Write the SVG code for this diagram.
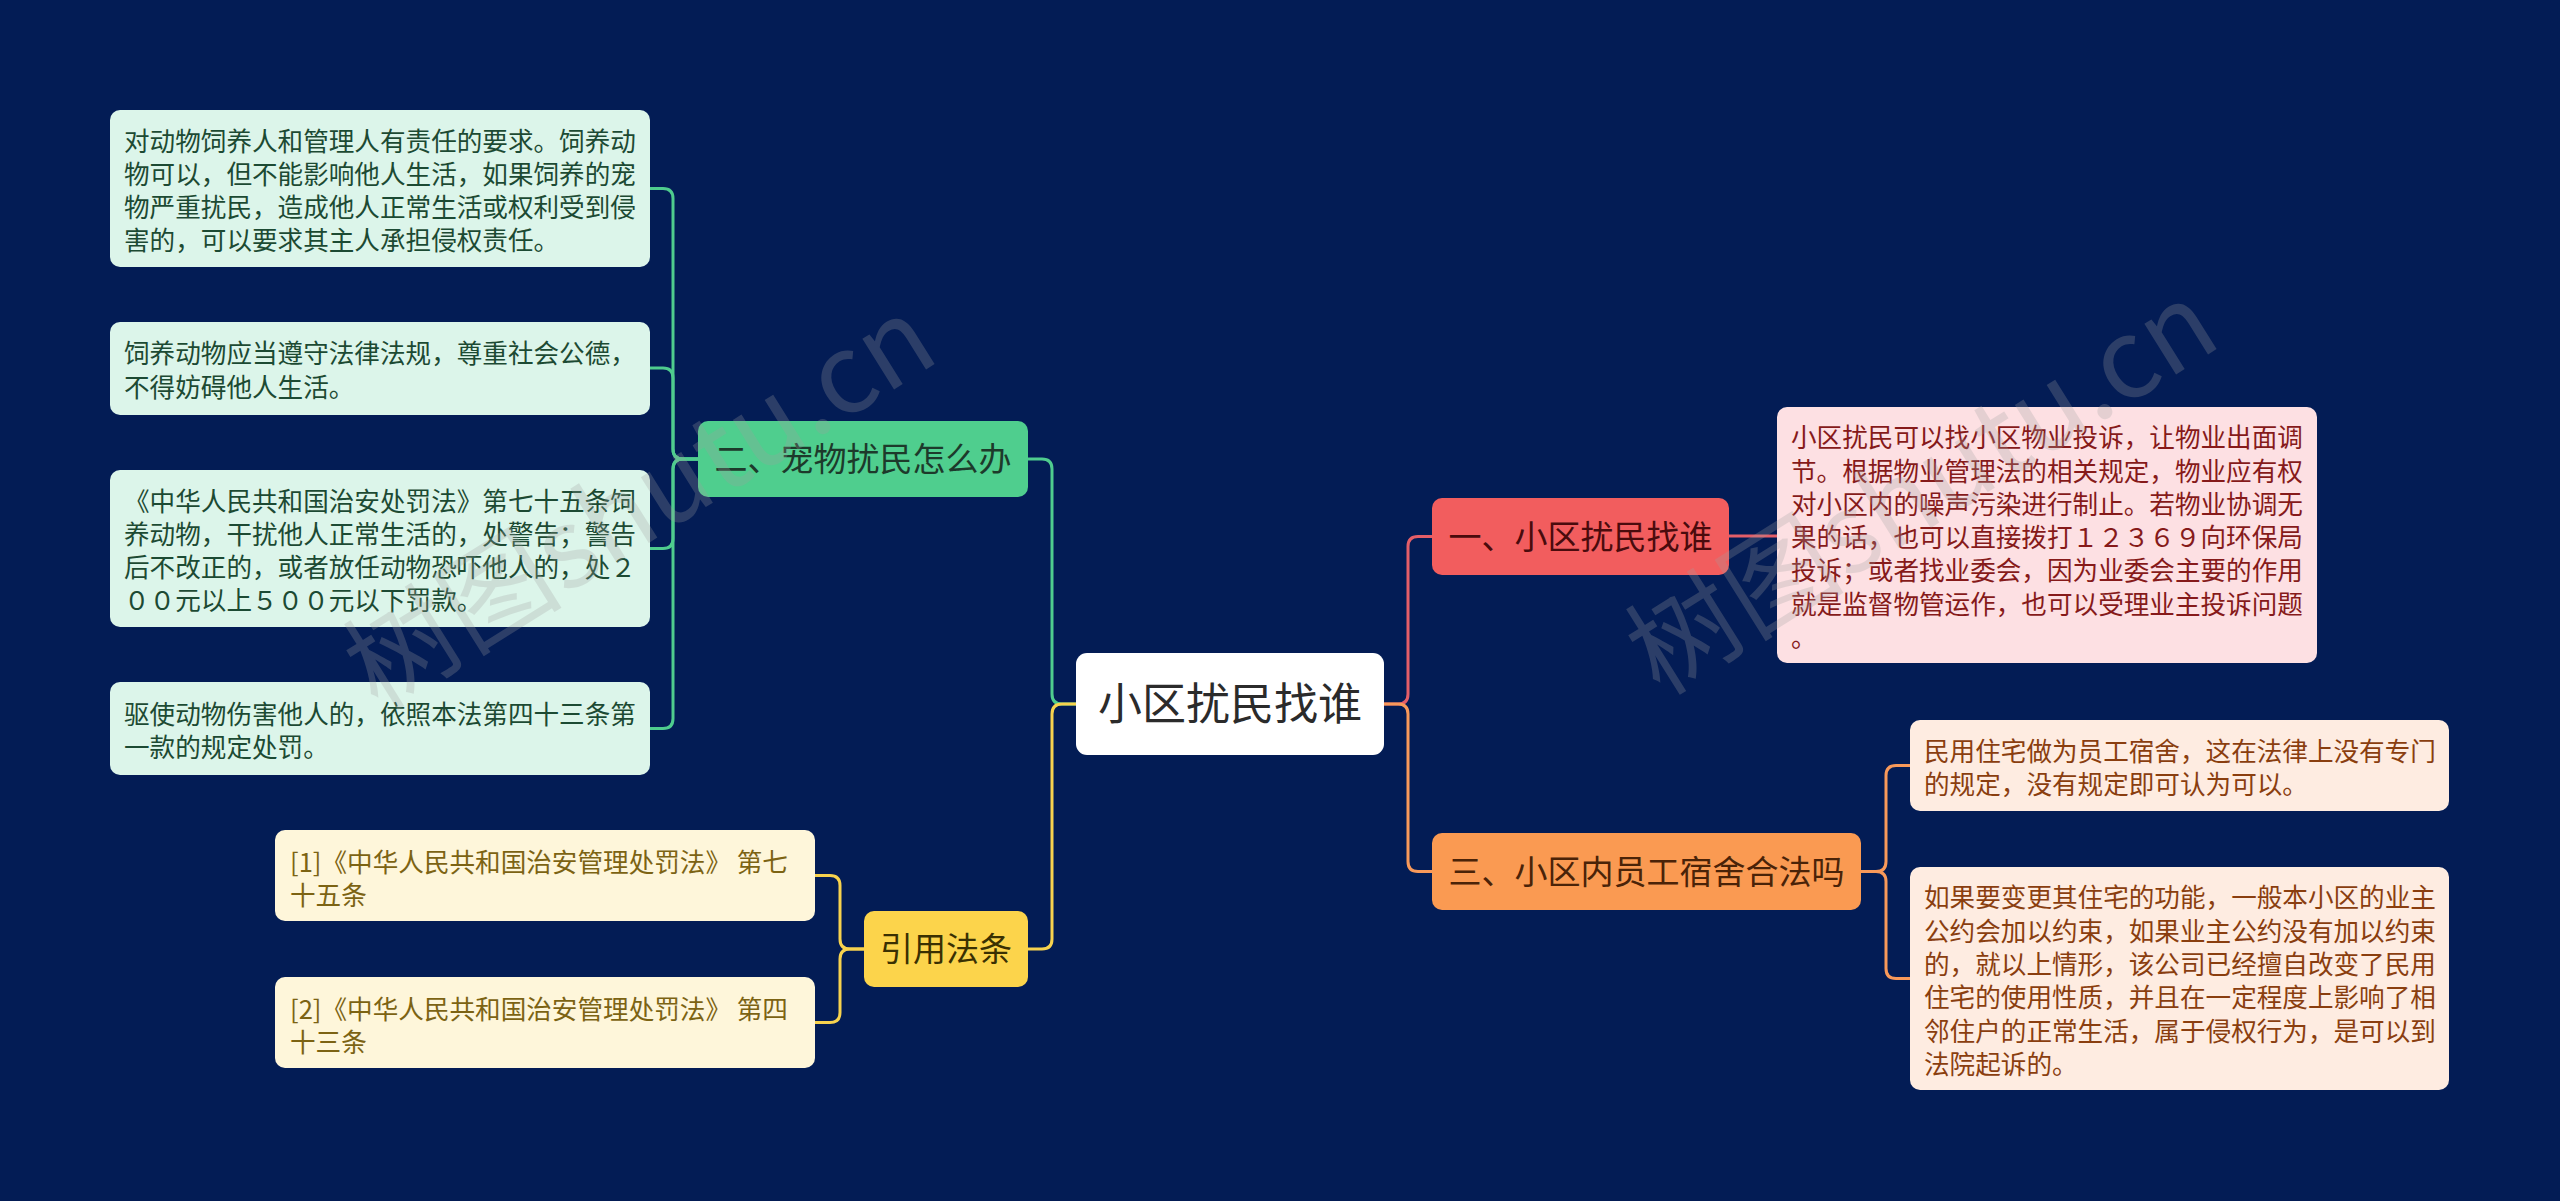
<svg xmlns="http://www.w3.org/2000/svg" width="2560" height="1201" viewBox="0 0 2560 1201">
<style>
text{font-family:"Noto Sans CJK SC","Noto Sans",sans-serif;}
.leaf{font-size:25.6px;}
.br{font-size:33px;text-anchor:middle;}
.root{font-size:44px;text-anchor:middle;fill:#2b2b2b;}
.c{fill:none;stroke-width:3;stroke-linecap:round;stroke-linejoin:round;}
.g{stroke:#4fcc8e;} .y{stroke:#f7d24e;} .r{stroke:#e45e68;} .o{stroke:#f8995a;}
.gl{fill:#dcf5ea;} .glt{fill:#1c4a33;}
.yl{fill:#fef6da;} .ylt{fill:#7c6313;}
.rl{fill:#fde0e3;} .rlt{fill:#861a1a;}
.ol{fill:#feece1;} .olt{fill:#8a3e0f;}
.wm{font-size:110px;fill:#a0a0a0;opacity:0.26;}
</style>
<rect width="2560" height="1201" fill="#031c55"/>

<g id="connectors">
<path class="c g" d="M1076 704 H1062 Q1052 704 1052 694 V469 Q1052 459 1042 459 H1028"/>
<path class="c y" d="M1076 704 H1062 Q1052 704 1052 714 V939 Q1052 949 1042 949 H1028"/>
<path class="c r" d="M1384 704 H1398 Q1408 704 1408 694 V546.5 Q1408 536.5 1418 536.5 H1432"/>
<path class="c o" d="M1384 704 H1398 Q1408 704 1408 714 V861.5 Q1408 871.5 1418 871.5 H1432"/>
<path class="c g" d="M698 459 H683 Q673 459 673 449 V198.5 Q673 188.5 663 188.5 H650"/>
<path class="c g" d="M698 459 H683 Q673 459 673 449 V378 Q673 368 663 368 H650"/>
<path class="c g" d="M698 459 H683 Q673 459 673 469 V538.5 Q673 548.5 663 548.5 H650"/>
<path class="c g" d="M698 459 H683 Q673 459 673 469 V718.5 Q673 728.5 663 728.5 H650"/>
<path class="c y" d="M864 949 H850 Q840 949 840 939 V885.5 Q840 875.5 830 875.5 H815"/>
<path class="c y" d="M864 949 H850 Q840 949 840 959 V1012.5 Q840 1022.5 830 1022.5 H815"/>
<path class="c r" d="M1729 536 H1777"/>
<path class="c o" d="M1861 871.5 H1876 Q1886 871.5 1886 861.5 V775.5 Q1886 765.5 1896 765.5 H1910"/>
<path class="c o" d="M1861 871.5 H1876 Q1886 871.5 1886 881.5 V968.5 Q1886 978.5 1896 978.5 H1910"/>
</g>

<g id="root">
<rect x="1076" y="653" width="308" height="102" rx="11" fill="#ffffff"/>
<text class="root" x="1230" y="720">小区扰民找谁</text>
</g>

<g id="branch-pet">
<rect x="698" y="421" width="330" height="76" rx="10" fill="#4fce8e"/>
<text class="br" x="863" y="471" fill="#1d3a2b">二、宠物扰民怎么办</text>
</g>
<g id="branch-law">
<rect x="864" y="911" width="164" height="76" rx="10" fill="#fcd44b"/>
<text class="br" x="946" y="961" fill="#3a3002">引用法条</text>
</g>
<g id="branch-who">
<rect x="1432" y="498" width="297" height="77" rx="10" fill="#f25d5e"/>
<text class="br" x="1580.5" y="549" fill="#4a0b0d">一、小区扰民找谁</text>
</g>
<g id="branch-dorm">
<rect x="1432" y="833" width="429" height="77" rx="10" fill="#fa9a52"/>
<text class="br" x="1646.5" y="884" fill="#4a2308">三、小区内员工宿舍合法吗</text>
</g>

<g id="leaf-pet-1">
<rect class="gl" x="110" y="110" width="540" height="157" rx="10"/>
<text class="leaf glt" x="124" y="150.5"><tspan x="124">对动物饲养人和管理人有责任的要求。饲养动</tspan><tspan x="124" dy="33.3">物可以，但不能影响他人生活，如果饲养的宠</tspan><tspan x="124" dy="33.3">物严重扰民，造成他人正常生活或权利受到侵</tspan><tspan x="124" dy="33.3">害的，可以要求其主人承担侵权责任。</tspan></text>
</g>
<g id="leaf-pet-2">
<rect class="gl" x="110" y="322" width="540" height="93" rx="10"/>
<text class="leaf glt" x="124" y="363.3"><tspan x="124">饲养动物应当遵守法律法规，尊重社会公德，</tspan><tspan x="124" dy="33.3">不得妨碍他人生活。</tspan></text>
</g>
<g id="leaf-pet-3">
<rect class="gl" x="110" y="470" width="540" height="157" rx="10"/>
<text class="leaf glt" x="124" y="510.5"><tspan x="124">《中华人民共和国治安处罚法》第七十五条饲</tspan><tspan x="124" dy="33.3">养动物，干扰他人正常生活的，处警告；警告</tspan><tspan x="124" dy="33.3">后不改正的，或者放任动物恐吓他人的，处２</tspan><tspan x="124" dy="33.3">００元以上５００元以下罚款。</tspan></text>
</g>
<g id="leaf-pet-4">
<rect class="gl" x="110" y="682" width="540" height="93" rx="10"/>
<text class="leaf glt" x="124" y="723.8"><tspan x="124">驱使动物伤害他人的，依照本法第四十三条第</tspan><tspan x="124" dy="33.3">一款的规定处罚。</tspan></text>
</g>

<g id="leaf-law-1">
<rect class="yl" x="275" y="830" width="540" height="91" rx="10"/>
<text class="leaf ylt" x="290" y="872"><tspan x="290">[1]《中华人民共和国治安管理处罚法》 第七</tspan><tspan x="290" dy="33.3">十五条</tspan></text>
</g>
<g id="leaf-law-2">
<rect class="yl" x="275" y="977" width="540" height="91" rx="10"/>
<text class="leaf ylt" x="290" y="1019"><tspan x="290">[2]《中华人民共和国治安管理处罚法》 第四</tspan><tspan x="290" dy="33.3">十三条</tspan></text>
</g>

<g id="leaf-who-1">
<rect class="rl" x="1777" y="407" width="540" height="256" rx="10"/>
<text class="leaf rlt" x="1791" y="447.2"><tspan x="1791">小区扰民可以找小区物业投诉，让物业出面调</tspan><tspan x="1791" dy="33.3">节。根据物业管理法的相关规定，物业应有权</tspan><tspan x="1791" dy="33.3">对小区内的噪声污染进行制止。若物业协调无</tspan><tspan x="1791" dy="33.3">果的话，也可以直接拨打１２３６９向环保局</tspan><tspan x="1791" dy="33.3">投诉；或者找业委会，因为业委会主要的作用</tspan><tspan x="1791" dy="33.3">就是监督物管运作，也可以受理业主投诉问题</tspan><tspan x="1791" dy="33.3">。</tspan></text>
</g>

<g id="leaf-dorm-1">
<rect class="ol" x="1910" y="720" width="539" height="91" rx="10"/>
<text class="leaf olt" x="1924" y="761"><tspan x="1924">民用住宅做为员工宿舍，这在法律上没有专门</tspan><tspan x="1924" dy="33.3">的规定，没有规定即可认为可以。</tspan></text>
</g>
<g id="leaf-dorm-2">
<rect class="ol" x="1910" y="867" width="539" height="223" rx="10"/>
<text class="leaf olt" x="1924" y="907.3"><tspan x="1924">如果要变更其住宅的功能，一般本小区的业主</tspan><tspan x="1924" dy="33.3">公约会加以约束，如果业主公约没有加以约束</tspan><tspan x="1924" dy="33.3">的，就以上情形，该公司已经擅自改变了民用</tspan><tspan x="1924" dy="33.3">住宅的使用性质，并且在一定程度上影响了相</tspan><tspan x="1924" dy="33.3">邻住户的正常生活，属于侵权行为，是可以到</tspan><tspan x="1924" dy="33.3">法院起诉的。</tspan></text>
</g>

<g id="watermark">
<text class="wm" transform="translate(378 712) rotate(-32)">树图shutu.cn</text>
<text class="wm" transform="translate(1660 697) rotate(-32)">树图shutu.cn</text>
</g>
</svg>
